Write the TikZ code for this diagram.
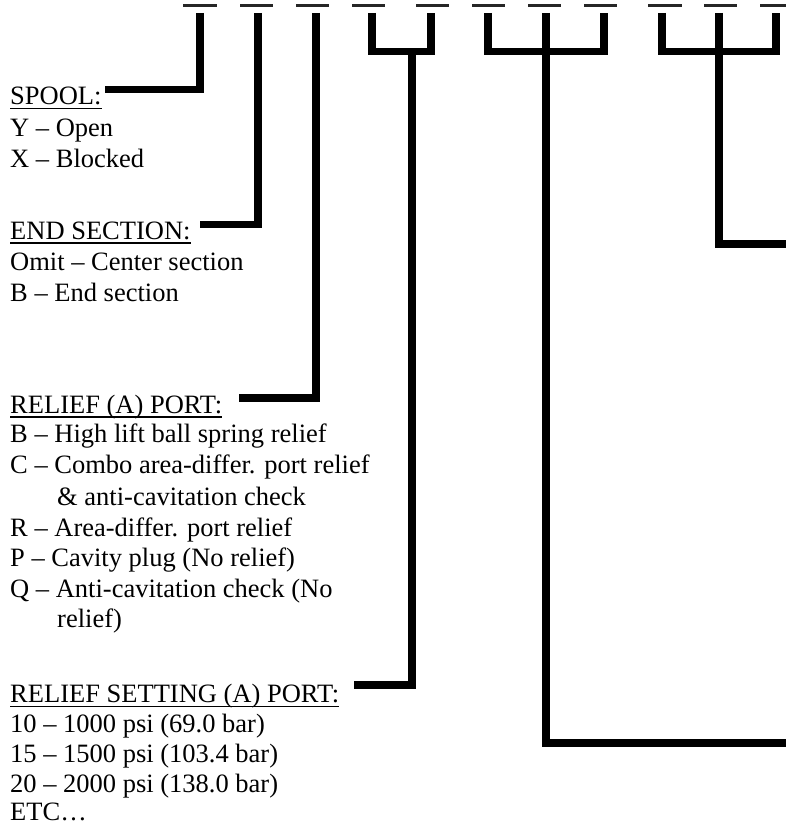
\documentclass[tikz,border=0pt]{standalone}
\usepackage{fontspec}
\setmainfont{Liberation Serif}
\begin{document}
\begin{tikzpicture}[x=1pt,y=-1pt,
  txt/.style={anchor=base west,inner sep=0pt,font=\fontsize{26.5}{30.5}\selectfont},
  hdr/.style={txt},
  conn/.style={line width=7.5pt,line join=miter,line cap=butt},
  dashline/.style={line width=2.2pt,black!85},
  uline/.style={line width=1.6pt}]
\useasboundingbox (0,0) rectangle (786,826);

% blanks of the code
\foreach \a/\b in {183/217,240/273,296/329,352/385,416/449,472/505,528/561,584/617,648/682,704/737,760/786}
  \draw[dashline] (\a,5.5) -- (\b,5.5);

% SPOOL block
\node[hdr] (hSpool) at (10,104.8) {SPOOL:};
\node[txt] (sY) at (10,136.8) {Y – Open};
\node[txt] (sX) at (10,167.7) {X – Blocked};

% END SECTION block
\node[hdr] (hEnd) at (10,239.3) {END SECTION:};
\node[txt] (eO) at (10,270.7) {Omit – Center section};
\node[txt] (eB) at (10,301.7) {B – End section};

% RELIEF (A) PORT block
\node[hdr] (hRelief) at (10,413.3) {RELIEF (A) PORT:};
\node[txt] (rB) at (10,442.7) {B – High lift ball spring relief};
\node[txt] (rC) at (10,473.3) {C – Combo area-differ. port relief};
\node[txt] (rC2) at (57,505) {\& anti-cavitation check};
\node[txt] (rR) at (10,536.7) {R – Area-differ. port relief};
\node[txt] (rP) at (10,566.7) {P – Cavity plug (No relief)};
\node[txt] (rQ) at (10,597.3) {Q – Anti-cavitation check (No};
\node[txt] (rQ2) at (57,627.3) {relief)};

% RELIEF SETTING block
\node[hdr] (hSetting) at (10,702.7) {RELIEF SETTING (A) PORT:};
\node[txt] (s10) at (10,732.7) {10 – 1000 psi (69.0 bar)};
\node[txt] (s15) at (10,762.7) {15 – 1500 psi (103.4 bar)};
\node[txt] (s20) at (10,792.7) {20 – 2000 psi (138.0 bar)};
\node[txt,text depth=0pt] (sEtc) at (10,820) {ETC…};

% underlines of the headings
\foreach \h in {hSpool,hEnd,hRelief,hSetting}
  \draw[uline] ([yshift=-3.6pt]\h.base west) -- ([yshift=-3.6pt]\h.base east);

% connector points
\coordinate (v1) at (200,13);
\coordinate (v2) at (258,13);
\coordinate (v3) at (316,13);
\coordinate (a1) at (372,13);
\coordinate (a2) at (431,13);
\coordinate (aStem) at (412,51.5);
\coordinate (b1) at (488,13);
\coordinate (b2) at (546,13);
\coordinate (b3) at (604,13);
\coordinate (c1) at (662,13);
\coordinate (c2) at (719,13);
\coordinate (c3) at (776,13);
\coordinate (eSpool) at (105,89.7);
\coordinate (eEnd) at (200,224.5);
\coordinate (eRelief) at (239,398);
\coordinate (eSetting) at (354,685);
\coordinate (eRight1) at (786,244);
\coordinate (eRight2) at (786,743);

% connectors
\draw[conn] (v1) |- (eSpool);
\draw[conn] (v2) |- (eEnd);
\draw[conn] (v3) |- (eRelief);

\draw[conn] (a1) -- (372,51.5) -- (431,51.5) -- (a2);
\draw[conn] (aStem) |- (eSetting);

\draw[conn] (b1) -- (488,51.5) -- (604,51.5) -- (b3);
\draw[conn] (b2) |- (eRight2);

\draw[conn] (c1) -- (662,51.5) -- (776,51.5) -- (c3);
\draw[conn] (c2) |- (eRight1);
\end{tikzpicture}
\end{document}
